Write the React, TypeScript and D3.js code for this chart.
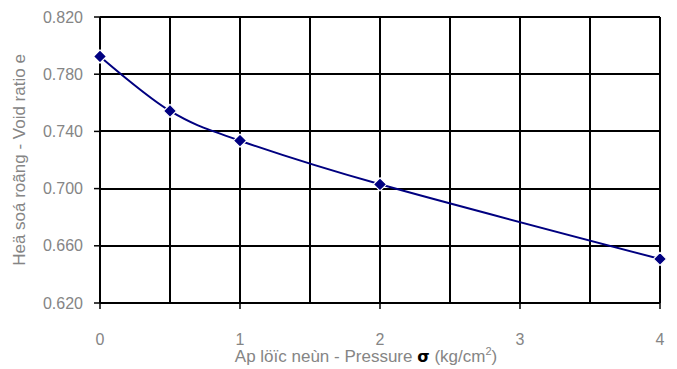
import React, { useRef, useEffect } from 'react';
import * as d3 from 'd3';

const pressure = [0, 0.5, 1, 2, 4];
const voidRatio = [0.7924, 0.7543, 0.7335, 0.703, 0.6508];
const xTickValues = [0, 1, 2, 3, 4];
const xGridValues = [0, 0.5, 1, 1.5, 2, 2.5, 3, 3.5, 4];
const yTickValues = [0.62, 0.66, 0.7, 0.74, 0.78, 0.82];

export default function App() {
  const svgRef = useRef<SVGSVGElement>(null);

  useEffect(() => {
    if (!svgRef.current) return;
    const width = 677, height = 369;
    const left = 100, right = 660, top = 17, bottom = 303;
    const font = '"Liberation Sans Narrow", "Liberation Sans", Arial, sans-serif';
    const grey = '#858585';

    const svg = d3.select(svgRef.current);
    svg.selectAll('*').remove();
    svg.attr('width', width).attr('height', height);

    const x = d3.scaleLinear().domain([0, 4]).range([left, right]);
    const y = d3.scaleLinear().domain([0.62, 0.82]).range([bottom, top]);

    // grid
    const grid = svg.append('g').attr('stroke', '#000').attr('stroke-width', 2).attr('shape-rendering', 'crispEdges');
    xGridValues.forEach((v) => {
      grid.append('line').attr('x1', x(v)).attr('x2', x(v)).attr('y1', top).attr('y2', bottom);
    });
    yTickValues.forEach((v) => {
      grid.append('line').attr('x1', left).attr('x2', right).attr('y1', y(v)).attr('y2', y(v));
    });

    // ticks
    const ticks = svg.append('g').attr('stroke', '#000').attr('stroke-width', 1.5);
    yTickValues.forEach((v) => {
      ticks.append('line').attr('x1', left - 6).attr('x2', left).attr('y1', y(v)).attr('y2', y(v));
    });
    xTickValues.forEach((v) => {
      ticks.append('line').attr('x1', x(v)).attr('x2', x(v)).attr('y1', bottom).attr('y2', bottom + 6);
    });

    // tick labels
    svg.append('g').selectAll('text').data(yTickValues).join('text')
      .attr('x', 83).attr('y', (d) => y(d)).attr('dy', '0.35em')
      .attr('text-anchor', 'end').attr('fill', grey)
      .attr('font-family', font).attr('font-size', 16)
      .text((d) => d3.format('.3f')(d));

    svg.append('g').selectAll('text').data(xTickValues).join('text')
      .attr('x', (d) => x(d)).attr('y', 345)
      .attr('text-anchor', 'middle').attr('fill', grey)
      .attr('font-family', font).attr('font-size', 16)
      .text((d) => d);

    // series
    const pts = pressure.map((p, i) => [x(p), y(voidRatio[i])] as [number, number]);
    const line = d3.line().curve(d3.curveCatmullRom.alpha(0));
    svg.append('path').attr('d', line(pts)).attr('fill', 'none')
      .attr('stroke', '#000080').attr('stroke-width', 2);

    const diamond = d3.symbol().type(d3.symbolDiamond2).size(110);
    svg.append('g').selectAll('path').data(pts).join('path')
      .attr('d', diamond())
      .attr('transform', (d) => `translate(${d[0]},${d[1]})`)
      .attr('fill', '#000080').attr('stroke', '#fff').attr('stroke-width', 1.2);

    // axis titles
    const xt = svg.append('text').attr('x', 366).attr('y', 362)
      .attr('text-anchor', 'middle').attr('fill', grey)
      .attr('font-family', font).attr('font-size', 17);
    xt.append('tspan').text('Ap löïc neùn - Pressure ');
    xt.append('tspan').attr('fill', '#000').attr('font-weight', 'bold').attr('font-family', '"DejaVu Sans", sans-serif').attr('font-size', 16).text('σ');
    xt.append('tspan').text(' (kg/cm');
    xt.append('tspan').attr('dy', -7).attr('font-size', 11).text('2');
    xt.append('tspan').attr('dy', 7).text(')');

    svg.append('text')
      .attr('transform', `translate(25,${(top + bottom) / 2}) rotate(-90)`)
      .attr('text-anchor', 'middle').attr('fill', grey)
      .attr('font-family', font).attr('font-size', 17)
      .text('Heä soá roãng - Void ratio e');
  }, []);

  return (
    <svg ref={svgRef} style={{ position: 'absolute', left: 0, top: 0, background: '#fff' }} />
  );
}
